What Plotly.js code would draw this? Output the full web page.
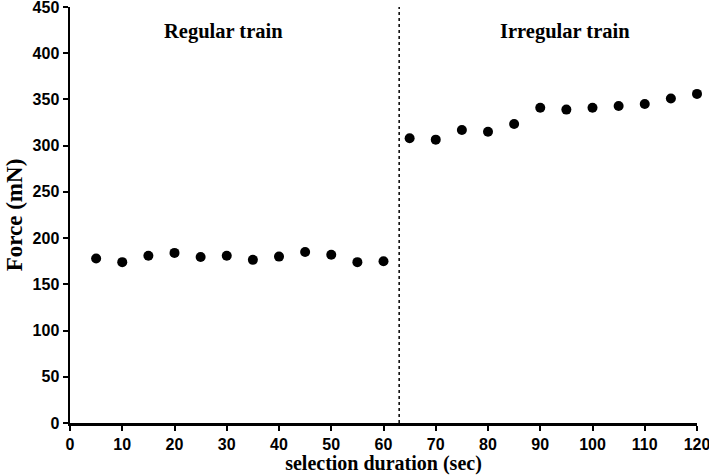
<!DOCTYPE html>
<html>
<head>
<meta charset="utf-8">
<script src="https://cdn.plot.ly/plotly-3.0.1.min.js"></script>
<style>html,body{margin:0;padding:0;background:#fff;}#chart{width:709px;height:475px;}</style>
</head>
<body>
<div id="chart"></div>
<script>
const regularX = [5, 10, 15, 20, 25, 30, 35, 40, 45, 50, 55, 60];
const regularForce = [178, 174, 181, 184, 179.5, 181, 176.5, 180, 185, 182, 174, 175];
const irregularX = [65, 70, 75, 80, 85, 90, 95, 100, 105, 110, 115, 120];
const irregularForce = [308, 306.5, 317, 315, 323.5, 341, 339, 341, 343, 345, 351, 356];
const dividerX = 63;
const xTicks = [0, 10, 20, 30, 40, 50, 60, 70, 80, 90, 100, 110, 120];
const yTicks = [0, 50, 100, 150, 200, 250, 300, 350, 400, 450];

const marker = {color: '#000', size: 10};
const data = [
  {x: regularX, y: regularForce, mode: 'markers', type: 'scatter', marker: marker, cliponaxis: false, showlegend: false},
  {x: irregularX, y: irregularForce, mode: 'markers', type: 'scatter', marker: marker, cliponaxis: false, showlegend: false}
];
const tickFont = {family: '"Liberation Sans", Arial, sans-serif', size: 16, color: '#000'};
const serif = '"Liberation Serif", "Times New Roman", serif';
const layout = {
  width: 709, height: 475,
  margin: {l: 70, r: 12, t: 7, b: 52},
  paper_bgcolor: '#fff', plot_bgcolor: '#fff',
  xaxis: {
    range: [0, 120], tickvals: xTicks, ticktext: xTicks.map(v => '<b>' + v + '</b>'),
    showgrid: false, zeroline: false, showline: true, linecolor: '#000', linewidth: 2.5,
    ticks: 'outside', ticklen: 5, tickwidth: 2, tickcolor: '#000',
    tickfont: tickFont, ticklabeloverflow: 'allow',
    title: {text: '<b>selection duration (sec)</b>', font: {family: serif, size: 20, color: '#000'}, standoff: 0}
  },
  yaxis: {
    range: [0, 450], tickvals: yTicks, ticktext: yTicks.map(v => '<b>' + v + '</b>'),
    showgrid: false, zeroline: false, showline: true, linecolor: '#000', linewidth: 2.5,
    ticks: 'outside', ticklen: 5, tickwidth: 2, tickcolor: '#000',
    tickfont: tickFont, ticklabeloverflow: 'allow',
    title: {text: '<b>Force (mN)</b>', font: {family: serif, size: 23, color: '#000'}, standoff: 4}
  },
  shapes: [{type: 'line', xref: 'x', yref: 'y', x0: dividerX, x1: dividerX, y0: 0, y1: 450,
            line: {color: '#000', width: 1.5, dash: 'dot'}}],
  annotations: [
    {x: 29.3, y: 424, xref: 'x', yref: 'y', text: '<b>Regular train</b>', showarrow: false,
     font: {family: serif, size: 20.5, color: '#000'}},
    {x: 94.7, y: 424, xref: 'x', yref: 'y', text: '<b>Irregular train</b>', showarrow: false,
     font: {family: serif, size: 20.5, color: '#000'}}
  ]
};
Plotly.newPlot('chart', data, layout, {staticPlot: true, displayModeBar: false});
</script>
</body>
</html>
